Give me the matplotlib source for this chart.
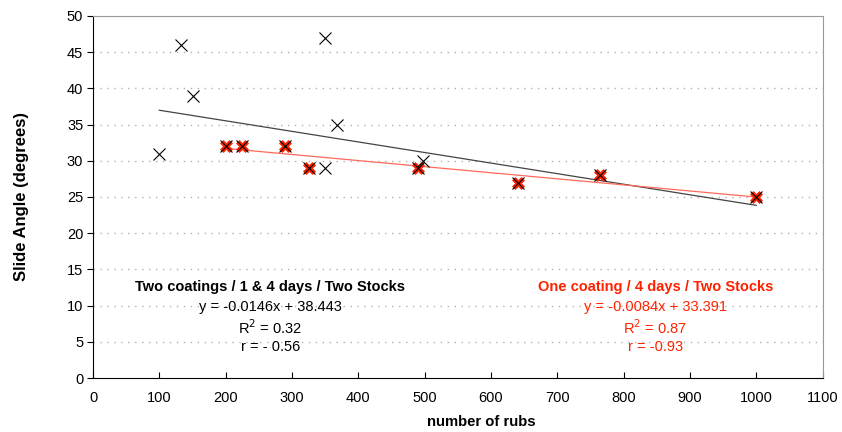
import numpy as np
import matplotlib.pyplot as plt

plt.rcParams['font.family'] = ['Liberation Sans', 'DejaVu Sans']

# two coatings / 1 & 4 days (all samples)
rubs_all = [100, 132, 150, 350, 368, 350, 498, 200, 225, 290, 325, 490, 640, 765, 1000]
angle_all = [31, 46, 39, 47, 35, 29, 30, 32, 32, 32, 29, 29, 27, 28, 25]

# one coating / 4 days
rubs_one = [200, 225, 290, 325, 490, 640, 765, 1000]
angle_one = [32, 32, 32, 29, 29, 27, 28, 25]

# trendline coefficients (slope, intercept) and x range
fit_all = (-0.0146, 38.443)
fit_one = (-0.0084, 33.391)
range_all = [100, 1000]
range_one = [200, 1000]

fig = plt.figure(figsize=(8.42, 4.32), dpi=100)
ax = fig.add_axes([0.1105, 0.125, 0.8665, 0.838])

for yv in range(5, 50, 5):
    ax.axhline(yv, color='#b0b0b0', lw=1.0, ls=(0, (1, 4)), zorder=0)

xa = np.array(range_all)
ax.plot(xa, fit_all[0] * xa + fit_all[1], color='#444444', lw=0.9, zorder=2)
xo = np.array(range_one)
ax.plot(xo, fit_one[0] * xo + fit_one[1], color='#ff6a5a', lw=0.9, zorder=2)

ax.plot(rubs_one, angle_one, ls='none', marker='X', ms=9, color='#ff2200',
        mec='#ff2200', mew=0.5, zorder=3)
ax.plot(rubs_all, angle_all, ls='none', marker='x', ms=8.5, color='black',
        mew=0.8, zorder=4)

ax.set_xlim(0, 1100)
ax.set_ylim(0, 50)
ax.set_xticks(range(0, 1101, 100))
ax.set_yticks(range(0, 51, 5))
ax.tick_params(axis='x', direction='in', length=4, labelsize=10.5, pad=9)
ax.tick_params(axis='y', direction='out', length=4, labelsize=10.5, pad=3)

for s in ['top', 'right']:
    ax.spines[s].set_color('#999999')
for s in ['left', 'bottom']:
    ax.spines[s].set_color('black')

ax.set_xlabel('number of rubs', fontsize=10.7, fontweight='bold')
ax.xaxis.set_label_coords(0.532, -0.103)
ax.set_ylabel('Slide Angle (degrees)', fontsize=12, fontweight='bold')
ax.yaxis.set_label_coords(-0.088, 0.5)

fs = 10.5
ax.text(267, 12.6, 'Two coatings / 1 & 4 days / Two Stocks', ha='center', va='center',
        fontsize=fs, fontweight='bold', color='black')
ax.text(267, 9.8, 'y = -0.0146x + 38.443', ha='center', va='center', fontsize=fs)
ax.text(267, 7.0, 'R$^2$ = 0.32', ha='center', va='center', fontsize=fs)
ax.text(267, 4.3, 'r = - 0.56', ha='center', va='center', fontsize=fs)

red = '#ff2200'
ax.text(848, 12.6, 'One coating / 4 days / Two Stocks', ha='center', va='center',
        fontsize=fs, fontweight='bold', color=red)
ax.text(848, 9.8, 'y = -0.0084x + 33.391', ha='center', va='center', fontsize=fs, color=red)
ax.text(848, 7.0, 'R$^2$ = 0.87', ha='center', va='center', fontsize=fs, color=red)
ax.text(848, 4.3, 'r = -0.93', ha='center', va='center', fontsize=fs, color=red)

fig.savefig('out.png', dpi=100)
